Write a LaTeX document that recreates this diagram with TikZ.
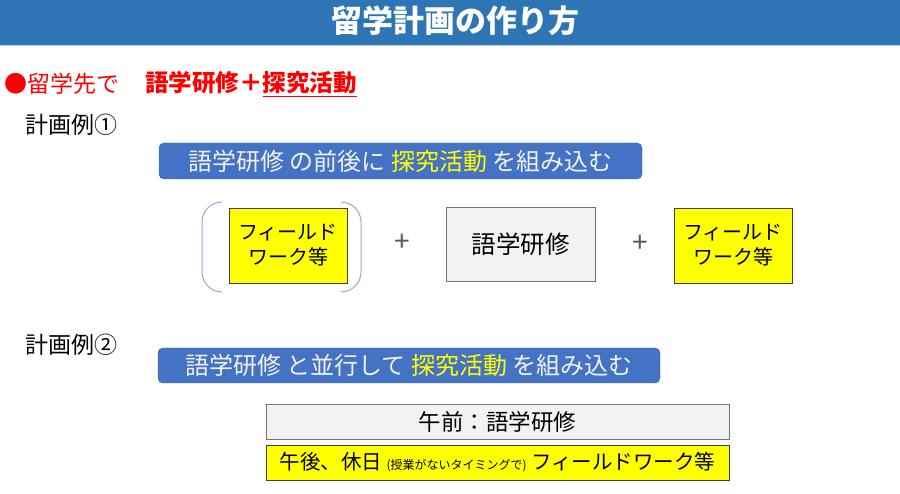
\documentclass[tikz,border=0pt]{standalone}
\usepackage{fontspec}
\setmainfont{Noto Sans CJK JP}
\usepackage{xcolor}
\usetikzlibrary{positioning}
\definecolor{palTitle}{HTML}{2E75B6}
\definecolor{palBlue}{HTML}{4472C4}
\definecolor{palEdge}{HTML}{8FAADC}
\definecolor{palYellow}{HTML}{FFFF00}
\definecolor{palGray}{HTML}{F2F2F2}
\definecolor{palRed}{HTML}{FF0000}
\newcommand{\fs}[1]{\fontsize{#1}{#1}\selectfont}

\begin{document}
\begin{tikzpicture}[
  x=1pt, y=-1pt,
  plain/.style={inner sep=0pt, anchor=west},
  banner/.style={draw=palBlue!80!black, fill=palBlue, rounded corners=5pt, inner sep=0pt, text=palGray, font=\fs{24}},
  fieldbox/.style={draw=black!75, fill=palYellow, inner sep=0pt, align=center, line width=0.7pt},
  langbox/.style={draw=black!55, fill=palGray, inner sep=0pt, align=center, line width=0.7pt},
  plus/.style={inner sep=0pt, text=black!65, font=\fs{28}},
]
\useasboundingbox (0,0) rectangle (900,494);

% title bar
\fill[palTitle] (0,0) rectangle (900,45);
\draw[palEdge!60, line width=1pt] (0,46) -- (900,46);
\node[inner sep=0pt, text=white, font=\fs{31}\bfseries] (title) at (455,21) {留学計画の作り方};

% headline
\node[plain, text=palRed, font=\fs{23}] (where) at (4,84) {●留学先で};
\node[plain, text=palRed, font=\fs{23.5}\bfseries] (what) at (145,84) {語学研修＋\underline{探究活動}};

% plan 1
\node[plain, font=\fs{23}] (plan1) at (25,125) {計画例①};
\node[banner, minimum width=483, minimum height=36] (ban1) at (400.5,161) {語学研修 の前後に \textcolor{palYellow}{探究活動} を組み込む};

\node[fieldbox, minimum width=118, minimum height=75, font=\fontsize{20}{25}\selectfont] (field1) at (288,245.5) {フィールド\\ワーク等};
\draw[palEdge, line width=1pt] (222,202) arc (270:180:20) -- (202,272) arc (180:90:20);
\draw[palEdge, line width=1pt] (341,202) arc (270:360:20) -- (361,272) arc (0:90:20);
\node[plus] (plus1) at (402,243) {+};
\node[langbox, minimum width=149, minimum height=74, font=\fs{24.5}] (lang1) at (520.5,244) {語学研修};
\node[plus] (plus2) at (640,244) {+};
\node[fieldbox, minimum width=118, minimum height=75, font=\fontsize{20}{25}\selectfont] (field2) at (733,245.5) {フィールド\\ワーク等};

% plan 2
\node[plain, font=\fs{23}] (plan2) at (25,345) {計画例②};
\node[banner, minimum width=502, minimum height=35] (ban2) at (409,365.5) {語学研修 と並行して \textcolor{palYellow}{探究活動} を組み込む};

\node[langbox, minimum width=463, minimum height=35, font=\fs{22.5}] (lang2) at (497.5,421.5) {午前：語学研修};
\node[fieldbox, minimum width=463, minimum height=35, font=\fs{20.5}] (field3) at (497.5,462.5) {午後、休日 {\fs{12}(授業がないタイミングで)} フィールドワーク等};
\end{tikzpicture}
\end{document}
